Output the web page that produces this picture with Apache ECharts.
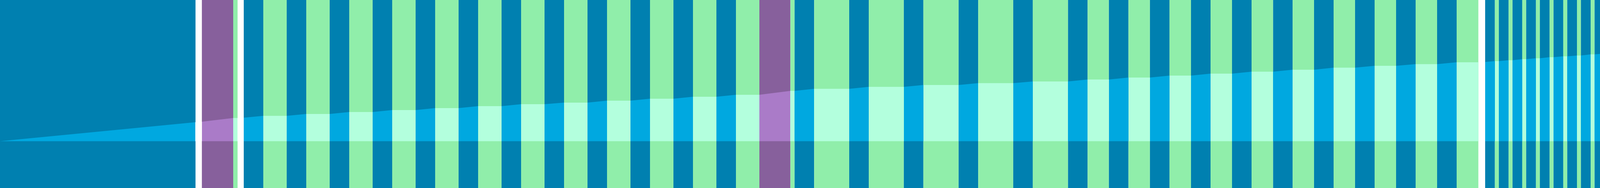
<!DOCTYPE html>
<html>
<head>
<meta charset="utf-8">
<script src="https://cdn.jsdelivr.net/npm/echarts@6/dist/echarts.min.js"></script>
<style>
  html, body { margin: 0; padding: 0; background: #ffffff; }
  #chart { width: 4362px; height: 480px; }
</style>
</head>
<body>
<div id="chart"></div>
<script>
// Band edges along the x axis
const edges = [
  0, 500.5, 516.8, 597, 608.2, 624,
  674, 734, 784, 844, 894, 954, 1004, 1064, 1114, 1174, 1224, 1284, 1334, 1394,
  1444, 1504, 1554, 1614, 1664, 1724, 1774, 1834, 1884, 1944,
  2023.5, 2034.2,
  2084.2, 2174, 2224, 2313.8, 2363.8, 2454.1, 2504.1, 2593.9, 2643.9, 2734.2,
  2784.2, 2838.8, 2888.8, 2943.9, 2993.9, 3049, 3099, 3154, 3204, 3259.2,
  3309.2, 3364, 3414, 3469, 3519, 3574, 3624, 3679, 3729, 3784.6,
  3802, 3826.8, 3837.1, 3861.9, 3872.1, 3896.9, 3907.1, 3931.9, 3942.1, 3966.9,
  3977.1, 4001.9, 4012.2, 4037, 4047.2, 4072, 4082.2, 4107, 4117.2, 4142,
  4152.2, 4177, 4187.3, 4212.1, 4222.3, 4247.1, 4257.3, 4282.1, 4292.3, 4317.1,
  4327.3, 4352.1, 4362
];

// Line level at each edge
const levels = [
  0, 48.5, 49.7, 59.3, 59.3, 60,
  64.8, 64.8, 69.5, 69.5, 74.5, 74.5, 79.5, 79.5, 84.5, 84.5, 89.5, 89.5, 94.5, 94.5,
  98.5, 98.5, 103.5, 103.5, 108.5, 108.5, 113.5, 113.5, 118.5, 118.5,
  128.5, 128.5,
  133.8, 133.8, 138.8, 138.8, 143.5, 143.5, 148.2, 148.2, 152.5, 152.5,
  157.5, 157.5, 162.5, 162.5, 167.5, 167.5, 172.5, 172.5, 177.5, 177.5,
  182.5, 182.5, 187.8, 187.8, 192.5, 192.5, 196.8, 196.8, 201.5, 201.5,
  202.2, 204.5, 204.5, 206.8, 206.8, 209.5, 209.5, 211.8, 211.8, 214.5,
  214.5, 216.8, 216.8, 218.8, 218.8, 221.8, 221.8, 223.8, 223.8, 226.8,
  226.8, 228.8, 228.8, 231.8, 231.8, 233.8, 233.8, 236.8, 236.8, 238.8,
  238.8, 241.5, 241.5
];

// Kind of each band between consecutive edges: R = run, P = pause, M = marked, G = gap
const kinds = [
  'R', 'G', 'M', 'P', 'G',
  'R', 'P', 'R', 'P', 'R', 'P', 'R', 'P', 'R', 'P', 'R', 'P', 'R', 'P', 'R', 'P',
  'R', 'P', 'R', 'P', 'R', 'P', 'R', 'P',
  'M', 'P',
  'R', 'P', 'R', 'P', 'R', 'P', 'R', 'P', 'R', 'P',
  'R', 'P', 'R', 'P', 'R', 'P', 'R', 'P', 'R', 'P',
  'R', 'P', 'R', 'P', 'R', 'P', 'R', 'P', 'R', 'P',
  'G',
  'R', 'P', 'R', 'P', 'R', 'P', 'R', 'P', 'R', 'P', 'R', 'P', 'R', 'P', 'R', 'P',
  'R', 'P', 'R', 'P', 'R', 'P', 'R', 'P', 'R', 'P', 'R', 'P', 'R', 'P', 'R', 'P'
];

const bandColor = { R: '#0080b0', P: '#90eeaa', M: '#87609c' };
const fillColor = { R: '#00a8e0', P: '#b3ffdd', M: '#aa7bc8', G: '#ffffff' };

const lineData = edges.map((x, i) => [x, levels[i]]);

const markAreaData = [];
const pieces = [];
for (let i = 0; i < kinds.length; i++) {
  const k = kinds[i];
  if (k !== 'G') {
    markAreaData.push([
      { xAxis: edges[i], itemStyle: { color: bandColor[k] } },
      { xAxis: edges[i + 1] }
    ]);
  }
  const piece = { gte: edges[i], color: fillColor[k] };
  if (i === kinds.length - 1) piece.lte = edges[i + 1]; else piece.lt = edges[i + 1];
  pieces.push(piece);
}

const chart = echarts.init(document.getElementById('chart'), null, { renderer: 'canvas' });
chart.setOption({
  animation: false,
  backgroundColor: '#ffffff',
  grid: { left: 0, right: 0, top: 0, bottom: 0, containLabel: false },
  xAxis: {
    type: 'value', min: 0, max: 4362,
    axisLine: { show: false }, axisTick: { show: false },
    axisLabel: { show: false }, splitLine: { show: false }
  },
  yAxis: {
    type: 'value', min: -119.5, max: 360.5,
    axisLine: { show: false }, axisTick: { show: false },
    axisLabel: { show: false }, splitLine: { show: false }
  },
  visualMap: {
    type: 'piecewise',
    show: false,
    dimension: 0,
    seriesIndex: 0,
    pieces: pieces
  },
  series: [{
    type: 'line',
    data: lineData,
    symbol: 'none',
    showSymbol: false,
    silent: true,
    lineStyle: { width: 0, opacity: 0 },
    areaStyle: { opacity: 1 },
    markArea: {
      silent: true,
      label: { show: false },
      data: markAreaData
    }
  }]
});
</script>
</body>
</html>
